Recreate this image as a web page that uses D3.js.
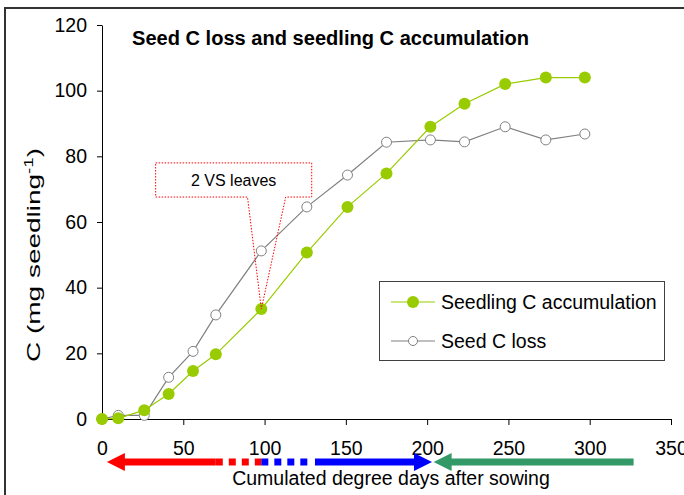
<!DOCTYPE html>
<html>
<head>
<meta charset="utf-8">
<script src="https://cdn.jsdelivr.net/npm/d3@7"></script>
<style>
  body { margin: 0; background: #fff; }
  svg { display: block; font-family: "Liberation Sans", Arial, sans-serif; }
</style>
</head>
<body>
<div id="chart"></div>
<script>
const WIDTH = 684;
const HEIGHT = 495;

// cumulated degree days after sowing
const degreeDays = [0, 10, 26, 41, 56, 70, 98, 126, 151, 175, 202, 223, 248, 273, 297];
// seedling C accumulation (mg seedling-1)
const seedlingC = [0, 0.2, 2.7, 7.6, 14.6, 19.7, 33.5, 50.7, 64.6, 74.8, 89, 96, 102, 104, 104];
// seed C loss (mg seedling-1)
const seedCLoss = [0, 1.1, 1.1, 12.7, 20.6, 31.7, 51.2, 64.6, 74.3, 84.3, 85, 84.4, 89, 85, 86.8];

const xTicks = [0, 50, 100, 150, 200, 250, 300, 350];
const yTicks = [0, 20, 40, 60, 80, 100, 120];

// phase arrows under the x axis (degree days)
const phaseArrows = [
    { x0: 3, x1: 70, color: "#FF0000", dashed: false, head: "left" },
    { x0: 70, x1: 98, color: "#FF0000", dashed: true, head: null },
    { x0: 98, x1: 128, color: "#0000FF", dashed: true, head: null },
    { x0: 131, x1: 203, color: "#0000FF", dashed: false, head: "right" },
    { x0: 204, x1: 327, color: "#339966", dashed: false, head: "left" }
];

// callout "2 VS leaves" in data units, pointing at the seedling point at 98 degree days
const calloutText = "2 VS leaves";
const calloutBox = { x0: 33, x1: 129, y0: 67.6, y1: 78 };
const calloutBase = [89.5, 113];
const calloutIndex = 6;

let svg = d3.select("#chart")
    .append("svg")
    .attr("width", WIDTH)
    .attr("height", HEIGHT);

let x = d3.scaleLinear().domain([0, 350]).range([102, 671]);
let y = d3.scaleLinear().domain([0, 120]).range([419, 25]);

// outer frame (only top and left visible)
svg.append("path")
    .attr("d", `M5,${HEIGHT} L5,8 L${WIDTH},8`)
    .attr("fill", "none")
    .attr("stroke", "#333")
    .attr("stroke-width", 2);

// axes
let xAxis = svg.append("g")
    .attr("transform", `translate(0,${y(0)})`)
    .call(d3.axisBottom(x).tickValues(xTicks).tickSize(6).tickPadding(16).tickSizeOuter(0));

let yAxis = svg.append("g")
    .attr("transform", `translate(${x(0)},0)`)
    .call(d3.axisLeft(y).tickValues(yTicks).tickSize(5).tickPadding(10).tickSizeOuter(0));

[xAxis, yAxis].forEach(g => {
    g.select(".domain").attr("stroke", "#000").attr("stroke-width", 1);
    g.selectAll(".tick line").attr("stroke", "#000");
    g.selectAll(".tick text")
        .attr("fill", "#000")
        .style("font-size", "19.5px")
        .style("font-family", "'Liberation Sans', Arial, sans-serif");
});

// title
svg.append("text")
    .attr("x", 132)
    .attr("y", 45)
    .attr("textLength", 397)
    .attr("lengthAdjust", "spacingAndGlyphs")
    .style("font-size", "19.5px")
    .style("font-weight", "bold")
    .text("Seed C loss and seedling C accumulation");

// y axis label
let yLabel = svg.append("text")
    .attr("transform", "translate(40,255) rotate(-90)")
    .attr("text-anchor", "middle")
    .attr("textLength", 214)
    .attr("lengthAdjust", "spacingAndGlyphs")
    .style("font-size", "18px");
yLabel.append("tspan").text("C (mg seedling");
yLabel.append("tspan").attr("dy", -7).style("font-size", "12px").text("-1");
yLabel.append("tspan").attr("dy", 7).text(")");

// x axis label
svg.append("text")
    .attr("x", 391)
    .attr("y", 485)
    .attr("text-anchor", "middle")
    .style("font-size", "19.5px")
    .text("Cumulated degree days after sowing");

// lines
let lossPoints = degreeDays.map((d, i) => [d, seedCLoss[i]]);
let seedlingPoints = degreeDays.map((d, i) => [d, seedlingC[i]]);

let line = d3.line()
    .x(d => x(d[0]))
    .y(d => y(d[1]));

svg.append("path")
    .datum(lossPoints)
    .attr("d", line)
    .attr("fill", "none")
    .attr("stroke", "#808080")
    .attr("stroke-width", 1.2);

svg.selectAll("circle.loss")
    .data(lossPoints)
    .enter()
    .append("circle")
    .attr("class", "loss")
    .attr("cx", d => x(d[0]))
    .attr("cy", d => y(d[1]))
    .attr("r", 5)
    .attr("fill", "#fff")
    .attr("stroke", "#808080")
    .attr("stroke-width", 1);

svg.append("path")
    .datum(seedlingPoints)
    .attr("d", line)
    .attr("fill", "none")
    .attr("stroke", "#99CC00")
    .attr("stroke-width", 1.2);

svg.selectAll("circle.seedling")
    .data(seedlingPoints)
    .enter()
    .append("circle")
    .attr("class", "seedling")
    .attr("cx", d => x(d[0]))
    .attr("cy", d => y(d[1]))
    .attr("r", 6)
    .attr("fill", "#99CC00");

// callout
let tip = seedlingPoints[calloutIndex];
let bx0 = x(calloutBox.x0), bx1 = x(calloutBox.x1);
let by0 = y(calloutBox.y1), by1 = y(calloutBox.y0);
svg.append("path")
    .attr("d", `M${bx0},${by0} L${bx1},${by0} L${bx1},${by1} L${x(calloutBase[1])},${by1} ` +
        `L${x(tip[0])},${y(tip[1])} L${x(calloutBase[0])},${by1} L${bx0},${by1} Z`)
    .attr("fill", "none")
    .attr("stroke", "#FF0000")
    .attr("stroke-width", 1)
    .attr("stroke-dasharray", "1.5,1.5");

svg.append("text")
    .attr("x", (bx0 + bx1) / 2)
    .attr("y", (by0 + by1) / 2)
    .attr("dy", "0.36em")
    .attr("text-anchor", "middle")
    .style("font-size", "16px")
    .text(calloutText);

// phase arrows
const arrowY = 462;
const headLen = 18;
const headHalf = 9;
phaseArrows.forEach(a => {
    let px0 = x(a.x0), px1 = x(a.x1);
    let s0 = a.head === "left" ? px0 + headLen - 1 : px0;
    let s1 = a.head === "right" ? px1 - headLen + 1 : px1;
    svg.append("line")
        .attr("x1", s0)
        .attr("x2", s1)
        .attr("y1", arrowY)
        .attr("y2", arrowY)
        .attr("stroke", a.color)
        .attr("stroke-width", 7)
        .attr("stroke-dasharray", a.dashed ? "7,6" : null);
    if (a.head === "left") {
        svg.append("path")
            .attr("d", `M${px0},${arrowY} L${px0 + headLen},${arrowY - headHalf} L${px0 + headLen},${arrowY + headHalf} Z`)
            .attr("fill", a.color);
    } else if (a.head === "right") {
        svg.append("path")
            .attr("d", `M${px1},${arrowY} L${px1 - headLen},${arrowY - headHalf} L${px1 - headLen},${arrowY + headHalf} Z`)
            .attr("fill", a.color);
    }
});

// legend
let legend = svg.append("g").attr("class", "legend");
legend.append("rect")
    .attr("x", 379.5)
    .attr("y", 281.5)
    .attr("width", 285)
    .attr("height", 79)
    .attr("fill", "#fff")
    .attr("stroke", "#404040")
    .attr("stroke-width", 1);

const legendItems = [
    { label: "Seedling C accumulation", color: "#99CC00", filled: true },
    { label: "Seed C loss", color: "#808080", filled: false }
];
legendItems.forEach((item, i) => {
    let ly = 302 + i * 39;
    legend.append("line")
        .attr("x1", 391)
        .attr("x2", 435)
        .attr("y1", ly)
        .attr("y2", ly)
        .attr("stroke", item.color)
        .attr("stroke-width", 1.2);
    legend.append("circle")
        .attr("cx", 413)
        .attr("cy", ly)
        .attr("r", item.filled ? 6 : 4.5)
        .attr("fill", item.filled ? item.color : "#fff")
        .attr("stroke", item.filled ? "none" : item.color);
    legend.append("text")
        .attr("x", 441)
        .attr("y", ly)
        .attr("dy", "0.36em")
        .style("font-size", "19.5px")
        .text(item.label);
});
</script>
</body>
</html>
